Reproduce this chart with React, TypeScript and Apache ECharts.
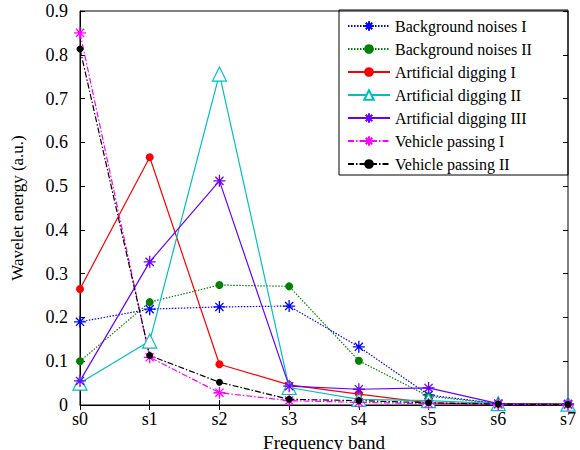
import React, { useEffect, useRef } from "react";
import * as echarts from "echarts";

const categories = ["s0", "s1", "s2", "s3", "s4", "s5", "s6", "s7"];
const yTicks = [0, 0.1, 0.2, 0.3, 0.4, 0.5, 0.6, 0.7, 0.8, 0.9];

const bgNoise1 = [0.19, 0.219, 0.224, 0.226, 0.133, 0.023, 0.003, 0.002];
const bgNoise2 = [0.1, 0.235, 0.274, 0.271, 0.101, 0.02, 0.003, 0.002];
const dig1 = [0.265, 0.566, 0.093, 0.046, 0.025, 0.005, 0.001, 0.0];
const dig2 = [0.05, 0.146, 0.756, 0.04, 0.013, 0.01, 0.003, 0.002];
const dig3 = [0.055, 0.327, 0.512, 0.043, 0.036, 0.039, 0.003, 0.002];
const vehicle1 = [0.85, 0.109, 0.028, 0.01, 0.006, 0.003, 0.001, 0.0];
const vehicle2 = [0.813, 0.113, 0.052, 0.013, 0.01, 0.005, 0.002, 0.001];

const seriesNames = [
  "Background noises I",
  "Background noises II",
  "Artificial digging I",
  "Artificial digging II",
  "Artificial digging III",
  "Vehicle passing I",
  "Vehicle passing II",
];

const FONT = "Liberation Serif";
const STAR = "path://M5 0 L5 10 M0 5 L10 5 M1.6 1.6 L8.4 8.4 M8.4 1.6 L1.6 8.4";
const DASHDOT = [6, 2, 1.5, 2];

function App() {
  const ref = useRef<HTMLDivElement>(null);
  useEffect(() => {
    document.body.style.margin = "0";
    if (!ref.current) return;
    const chart = echarts.init(ref.current, undefined, { renderer: "svg" });
    const mk = (
      name: string,
      data: number[],
      color: string,
      lineType: any,
      symbol: string,
      size: number,
      hollow: boolean,
      star: boolean
    ) => ({
      name,
      type: "line",
      data,
      symbol,
      symbolSize: size,
      showAllSymbol: true,
      lineStyle: { color, width: 1.2, type: lineType },
      itemStyle: star
        ? { color: "none", borderColor: color, borderWidth: 1.3 }
        : hollow
        ? { color: "#ffffff", borderColor: color, borderWidth: 1.2 }
        : { color, borderColor: color, borderWidth: 0 },
      emphasis: { disabled: true },
      z: 3,
    });
    const tick = () => ({ show: true, inside: true, length: 5, lineStyle: { color: "#000", width: 1 } });
    chart.setOption({
      animation: false,
      backgroundColor: "#ffffff",
      grid: {
        left: 80,
        right: 12,
        top: 11,
        bottom: 45,
        outerBoundsMode: "none",
        containLabel: false,
        show: true,
        borderColor: "#000",
        borderWidth: 1,
        backgroundColor: "transparent",
      },
      legend: {
        orient: "vertical",
        left: 347,
        top: 18,
        padding: 0,
        itemWidth: 42,
        itemHeight: 12,
        itemGap: 7,
        data: seriesNames,
        textStyle: { fontFamily: FONT, fontSize: 16, color: "#000" },
      },
      graphic: [
        {
          type: "rect",
          shape: { x: 339, y: 10, width: 229, height: 165 },
          style: { fill: "none", stroke: "#000", lineWidth: 1 },
          z: 100,
        },
      ],
      xAxis: [
        {
          type: "category",
          data: categories,
          boundaryGap: false,
          name: "Frequency band",
          nameLocation: "middle",
          nameGap: 23,
          nameTextStyle: { fontFamily: FONT, fontSize: 19, color: "#000" },
          axisLine: { lineStyle: { color: "#000", width: 1 } },
          axisTick: tick(),
          axisLabel: { fontSize: 18, color: "#000000", fontFamily: FONT, margin: 5 },
          splitLine: { show: false },
        },
        {
          type: "category",
          data: categories,
          boundaryGap: false,
          position: "top",
          axisLine: { show: false },
          axisTick: tick(),
          axisLabel: { show: false },
          splitLine: { show: false },
        },
      ],
      yAxis: [
        {
          type: "value",
          min: yTicks[0],
          max: yTicks[yTicks.length - 1],
          interval: 0.1,
          name: "Wavelet energy (a.u.)",
          nameLocation: "middle",
          nameGap: 54,
          nameTextStyle: { fontFamily: FONT, fontSize: 17, color: "#000" },
          axisLine: { show: true, lineStyle: { color: "#000", width: 1 } },
          axisTick: tick(),
          axisLabel: {
            fontSize: 18,
            color: "#000000",
            fontFamily: FONT,
            margin: 12,
            formatter: (v: number) => String(Math.round(v * 10) / 10),
          },
          splitLine: { show: false },
        },
        {
          type: "value",
          min: yTicks[0],
          max: yTicks[yTicks.length - 1],
          interval: 0.1,
          position: "right",
          axisLine: { show: false },
          axisTick: tick(),
          axisLabel: { show: false },
          splitLine: { show: false },
        },
      ],
      series: [
        mk(seriesNames[0], bgNoise1, "#0000ff", [1.5, 1.5], STAR, 12, false, true),
        mk(seriesNames[1], bgNoise2, "#008000", [1.5, 1.5], "circle", 8, false, false),
        mk(seriesNames[2], dig1, "#ff0000", "solid", "circle", 8, false, false),
        mk(seriesNames[3], dig2, "#00bfbf", "solid", "triangle", 14, true, false),
        mk(seriesNames[4], dig3, "#6a00ff", "solid", STAR, 12, false, true),
        mk(seriesNames[5], vehicle1, "#ff00ff", DASHDOT, STAR, 12, false, true),
        mk(seriesNames[6], vehicle2, "#000000", DASHDOT, "circle", 7, false, false),
      ],
    });
    return () => chart.dispose();
  }, []);
  return <div ref={ref} style={{ width: 580, height: 450 }} />;
}

export default App;
